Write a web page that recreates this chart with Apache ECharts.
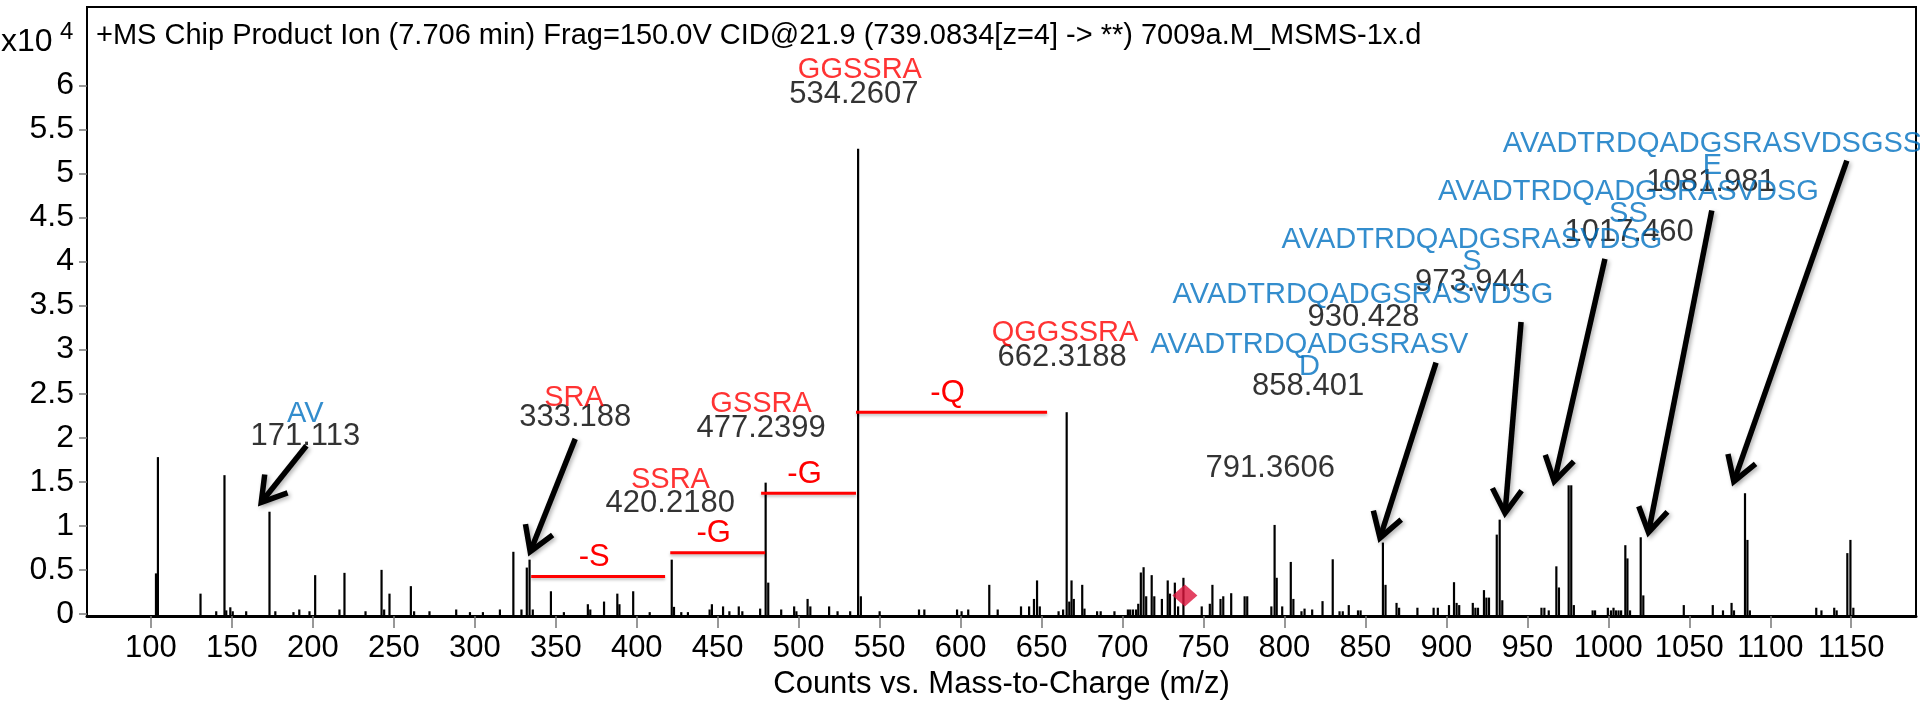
<!DOCTYPE html>
<html>
<head>
<meta charset="utf-8">
<title>MS/MS product ion spectrum</title>
<script src="https://cdn.jsdelivr.net/npm/echarts@6.0.0/dist/echarts.min.js"></script>
<style>
  html, body { margin: 0; padding: 0; background: #fff; }
  #main { width: 1920px; height: 705px; }
</style>
</head>
<body>
<div id="main"></div>
<script>
// peaks: [m/z, counts (x10^4)]
var peaks = [
  [103.1, 0.46], [104.3, 1.78], [130.6, 0.23], [140.3, 0.03], [145.4, 1.575], [146.5, 0.04],
  [149, 0.075], [150.5, 0.03], [158.8, 0.03], [173.2, 1.16], [176.8, 0.03], [188, 0.02],
  [191.6, 0.05], [197.9, 0.03], [201.4, 0.44], [216.4, 0.05], [219.5, 0.466], [232.5, 0.03],
  [242.4, 0.5], [244, 0.05], [247.3, 0.23], [260.5, 0.315], [262.5, 0.03], [272, 0.03],
  [288.5, 0.05], [297, 0.02], [305, 0.02], [315.5, 0.05], [323.8, 0.705], [328.8, 0.05],
  [332.1, 0.526], [333.8, 0.616], [335.8, 0.05], [347, 0.257], [355, 0.02], [369.8, 0.11],
  [371.3, 0.05], [379.8, 0.14], [388, 0.23], [389.3, 0.11], [397.8, 0.257], [408, 0.02],
  [421.6, 0.616], [423, 0.08], [427.5, 0.02], [431.6, 0.02], [445, 0.05], [446.4, 0.11],
  [453.3, 0.085], [457.2, 0.03], [463, 0.085], [465.2, 0.03], [476.2, 0.06], [479.6, 1.49],
  [481.2, 0.355], [489.2, 0.05], [497.2, 0.085], [498.6, 0.03], [505.5, 0.17], [507.2, 0.085],
  [518.8, 0.085], [524, 0.03], [531.8, 0.03], [536.7, 5.28], [538.4, 0.2], [550, 0.03],
  [574.3, 0.05], [577.6, 0.05], [597.8, 0.05], [600.6, 0.03], [604.7, 0.05], [617.7, 0.33],
  [622.9, 0.05], [637.3, 0.085], [642.3, 0.085], [645.3, 0.17], [647.2, 0.38], [648.9, 0.085],
  [660.5, 0.03], [663.3, 0.05], [665.5, 2.29], [667.1, 0.14], [668.5, 0.38], [669.9, 0.17],
  [675.1, 0.33], [676.5, 0.06], [684.3, 0.03], [686.5, 0.03], [695, 0.03], [703.3, 0.05],
  [704.7, 0.05], [706.4, 0.05], [708.3, 0.05], [709.7, 0.115], [711.3, 0.47], [713, 0.53],
  [714.6, 0.2], [718, 0.44], [719.6, 0.2], [724.3, 0.17], [727.9, 0.38], [729.3, 0.23],
  [732.3, 0.355], [734.3, 0.085], [737.6, 0.41], [748.9, 0.085], [753.9, 0.115], [755.5, 0.33],
  [760.5, 0.17], [762.2, 0.2], [767.1, 0.235], [775.4, 0.2], [777, 0.2], [791.9, 0.085],
  [793.9, 1.01], [795.2, 0.41], [798.6, 0.085], [803.9, 0.59], [805.5, 0.17], [810.5, 0.03],
  [812.4, 0.06], [817.1, 0.05], [823.5, 0.145], [829.8, 0.62], [834, 0.03], [836, 0.03],
  [839.7, 0.1], [845.4, 0.04], [847, 0.04], [860.8, 0.81], [862.4, 0.33], [869.2, 0.125],
  [870.8, 0.07], [882.1, 0.07], [892.1, 0.07], [894.7, 0.07], [901.6, 0.1], [904.7, 0.36],
  [906.3, 0.125], [907.9, 0.1], [916.3, 0.125], [917.9, 0.07], [919.5, 0.07], [923.2, 0.27],
  [924.7, 0.185], [926.3, 0.185], [931.1, 0.9], [932.9, 1.07], [934.5, 0.155], [958.7, 0.07],
  [960.5, 0.07], [963.2, 0.04], [967.9, 0.54], [969.5, 0.3], [975.5, 1.46], [977.1, 1.46],
  [978.7, 0.1], [990.3, 0.04], [991.8, 0.04], [999.7, 0.07], [1001.6, 0.04], [1003.2, 0.07],
  [1004.7, 0.04], [1006.3, 0.04], [1007.9, 0.04], [1010.5, 0.78], [1011.8, 0.63], [1013.4, 0.04],
  [1020, 0.87], [1021.6, 0.21], [1046.6, 0.1], [1064.5, 0.1], [1070.8, 0.04], [1076.1, 0.125],
  [1077.6, 0.04], [1084.4, 1.37], [1085.9, 0.84], [1087.4, 0.04], [1128.4, 0.07], [1131.6, 0.04],
  [1139.5, 0.07], [1141, 0.04], [1147.6, 0.69], [1149.5, 0.84], [1151.3, 0.07]
];

var xTicks = [100, 150, 200, 250, 300, 350, 400, 450, 500, 550, 600, 650, 700, 750, 800, 850, 900, 950, 1000, 1050, 1100, 1150];
var yTicks = [0, 0.5, 1, 1.5, 2, 2.5, 3, 3.5, 4, 4.5, 5, 5.5, 6];

var precursor = [[738.5, 0.21]];

// annotation anchors [m/z, counts, text]
var sequenceLabels = [
  [195.3, 2.27, 'AV'],
  [815.4, 2.93, 'AVADTRDQADGSRASV\nD'],
  [848.5, 3.62, 'AVADTRDQADGSRASVDSG'],
  [915.8, 4.12, 'AVADTRDQADGSRASVDSG\nS'],
  [1012.4, 4.665, 'AVADTRDQADGSRASVDSG\nSS'],
  [1064.3, 5.215, 'AVADTRDQADGSRASVDSGSS\nE']
];
var fragmentLabels = [
  [361.3, 2.455, 'SRA'],
  [420.8, 1.52, 'SSRA'],
  [476.8, 2.38, 'GSSRA'],
  [537.8, 6.18, 'GGSSRA'],
  [664.5, 3.19, 'QGGSSRA']
];
var mzLabels = [
  [195.3, 2.02, '171.113'],
  [362, 2.23, '333.188'],
  [420.7, 1.25, '420.2180'],
  [476.8, 2.11, '477.2399'],
  [534.1, 5.9, '534.2607'],
  [662.7, 2.91, '662.3188'],
  [791.2, 1.65, '791.3606'],
  [814.6, 2.58, '858.401'],
  [848.8, 3.37, '930.428'],
  [915.2, 3.76, '973.944'],
  [1012.8, 4.33, '1017.460'],
  [1063.4, 4.9, '1081.981']
];

// neutral losses: [from m/z, to m/z, counts]
var losses = [
  [334.8, 417.5, 0.425],
  [420.7, 479.3, 0.695],
  [476.8, 535.4, 1.37],
  [535.4, 653.4, 2.29]
];
var lossNames = ['-S', '-G', '-G', '-Q'];

// arrows: [tail m/z, tail counts, tip m/z, tip counts]
var arrows = [
  [196, 1.908, 168.1, 1.267],
  [362, 1.987, 334.2, 0.706],
  [893.6, 2.853, 859.0, 0.863],
  [946.1, 3.313, 936.2, 1.144],
  [997.9, 4.03, 966.6, 1.504],
  [1063.9, 4.58, 1024.8, 0.925],
  [1147.3, 5.145, 1077.5, 1.504]
];

var FONT = 'Liberation Sans, Arial, sans-serif';
var BLUE = '#0070C0';
var RED = '#FF0000';

function toLabelData(arr) {
  return arr.map(function (d) { return { value: [d[0], d[1]], name: d[2] }; });
}
function labelSeries(arr, color, size) {
  return {
    type: 'scatter',
    data: toLabelData(arr),
    symbolSize: 1,
    itemStyle: { color: 'rgba(0,0,0,0)' },
    silent: true,
    z: 5,
    label: {
      show: true,
      position: 'inside',
      formatter: '{b}',
      color: color,
      fontFamily: FONT,
      fontSize: size,
      lineHeight: 22
    }
  };
}

var myChart = echarts.init(document.getElementById('main'));

var option = {
  animation: false,
  backgroundColor: '#fff',
  title: [
    {
      text: 'x10', left: 1, top: 26, padding: 0,
      textStyle: { fontFamily: FONT, fontSize: 32, fontWeight: 'normal', color: '#000' }
    },
    {
      text: '4', left: 60, top: 20, padding: 0,
      textStyle: { fontFamily: FONT, fontSize: 24, fontWeight: 'normal', color: '#000' }
    },
    {
      text: '+MS Chip Product Ion (7.706 min) Frag=150.0V CID@21.9 (739.0834[z=4] -> **) 7009a.M_MSMS-1x.d',
      left: 96, top: 21, padding: 0,
      textStyle: { fontFamily: FONT, fontSize: 29, fontWeight: 'normal', color: '#000' }
    }
  ],
  grid: {
    left: 87, right: 4, top: 7, bottom: 83,
    show: true, borderColor: '#000', borderWidth: 2, backgroundColor: '#fff'
  },
  xAxis: {
    type: 'value',
    min: 60.5,
    max: 1190,
    name: 'Counts vs. Mass-to-Charge (m/z)',
    nameLocation: 'middle',
    nameGap: 50,
    nameTextStyle: { fontFamily: FONT, fontSize: 31, color: '#000' },
    axisLine: { show: true, onZero: false, lineStyle: { color: '#000', width: 3 } },
    axisTick: { show: true, length: 12, customValues: xTicks, lineStyle: { color: '#777', width: 1.5 } },
    axisLabel: {
      customValues: xTicks, margin: 17, fontFamily: FONT, fontSize: 31, color: '#000',
      formatter: function (v) { return String(v); }
    },
    splitLine: { show: false }
  },
  yAxis: {
    type: 'value',
    min: -0.025,
    max: 6.89,
    axisLine: { show: true, lineStyle: { color: '#000', width: 2 } },
    axisTick: { show: true, length: 8, customValues: yTicks, lineStyle: { color: '#777', width: 1.5 } },
    axisLabel: {
      customValues: yTicks, margin: 13, fontFamily: FONT, fontSize: 32, color: '#000',
      formatter: function (v) { return String(v); }
    },
    splitLine: { show: false }
  },
  series: [
    {
      type: 'custom',
      name: 'peaks',
      data: peaks,
      encode: { x: 0, y: 1 },
      clip: true,
      z: 3,
      renderItem: function (params, api) {
        var base = api.coord([api.value(0), 0]);
        var top = api.coord([api.value(0), api.value(1)]);
        return {
          type: 'line',
          shape: { x1: base[0], y1: base[1] + 2, x2: top[0], y2: top[1] },
          style: { stroke: '#000', lineWidth: 2.2 }
        };
      }
    },
    {
      type: 'scatter',
      name: 'precursor',
      data: precursor,
      symbol: 'diamond',
      symbolSize: [25, 22],
      itemStyle: { color: '#DC143C' },
      z: 4
    },
    {
      type: 'custom',
      name: 'losses',
      data: losses,
      encode: { x: [0, 1], y: 2 },
      z: 4,
      renderItem: function (params, api) {
        var a = api.coord([api.value(0), api.value(2)]);
        var b = api.coord([api.value(1), api.value(2)]);
        return {
          type: 'group',
          children: [
            {
              type: 'line',
              shape: { x1: a[0], y1: a[1], x2: b[0], y2: b[1] },
              style: { stroke: RED, lineWidth: 3, shadowBlur: 3, shadowColor: 'rgba(0,0,0,0.25)', shadowOffsetY: 2 }
            },
            {
              type: 'text',
              x: (a[0] + b[0]) / 2 - 4,
              y: a[1] - 19,
              style: {
                text: lossNames[params.dataIndex],
                fill: RED,
                font: '31px ' + FONT,
                align: 'center',
                verticalAlign: 'middle'
              }
            }
          ]
        };
      }
    },
    {
      type: 'custom',
      name: 'arrows',
      data: arrows,
      encode: { x: [0, 2], y: [1, 3] },
      z: 6,
      renderItem: function (params, api) {
        var a = api.coord([api.value(0), api.value(1)]);
        var b = api.coord([api.value(2), api.value(3)]);
        var ang = Math.atan2(b[1] - a[1], b[0] - a[0]);
        var L = 28, t = 0.55;
        var h1 = [b[0] - L * Math.cos(ang - t), b[1] - L * Math.sin(ang - t)];
        var h2 = [b[0] - L * Math.cos(ang + t), b[1] - L * Math.sin(ang + t)];
        var st = { stroke: '#000', lineWidth: 5.5, fill: null, shadowBlur: 4, shadowColor: 'rgba(0,0,0,0.3)', shadowOffsetX: 2, shadowOffsetY: 2 };
        return {
          type: 'group',
          children: [
            { type: 'line', shape: { x1: a[0], y1: a[1], x2: b[0] - 3 * Math.cos(ang), y2: b[1] - 3 * Math.sin(ang) }, style: st },
            { type: 'polyline', shape: { points: [h1, b, h2] }, style: st }
          ]
        };
      }
    },
    labelSeries(mzLabels, '#000', 31),
    labelSeries(fragmentLabels, RED, 29),
    labelSeries(sequenceLabels, BLUE, 29)
  ]
};

myChart.setOption(option);
</script>
</body>
</html>
